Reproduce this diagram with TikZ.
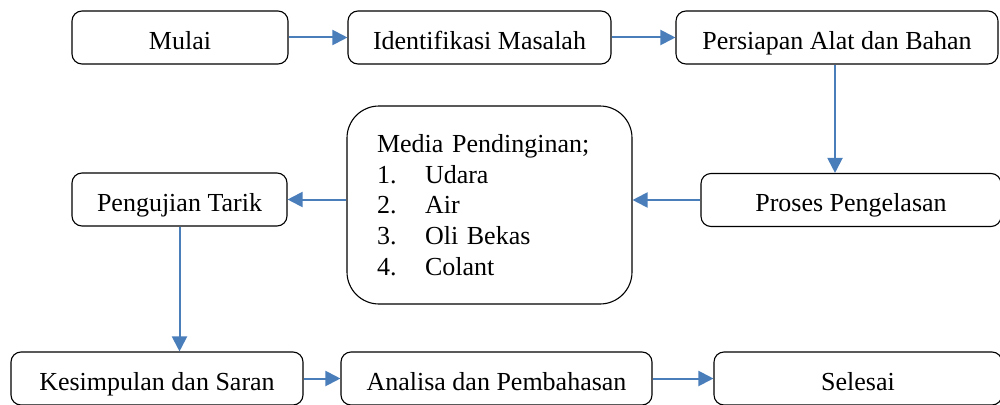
\documentclass[tikz,border=0pt]{standalone}
\usepackage{fontspec}
\setmainfont{Liberation Serif}
\usetikzlibrary{arrows.meta}
\definecolor{arrowblue}{HTML}{4A7EBB}
\begin{document}
\begin{tikzpicture}[x=1pt,y=-1pt,
  box/.style={draw=black, line width=1.1pt, rounded corners=10pt, inner sep=0pt,
    minimum height=53pt, font=\fontsize{26}{30.7}\selectfont,
    text height=23pt, text depth=0pt},
  bigbox/.style={draw=black, line width=1.1pt, rounded corners=32pt, inner sep=0pt,
    minimum width=285pt, minimum height=198pt, text width=225pt, align=left,
    font=\fontsize{26}{30.7}\selectfont},
  flow/.style={draw=arrowblue, line width=2pt, -{Triangle[length=15pt,width=15pt]}}
]
\useasboundingbox (0,0) rectangle (1000,404);
\clip (0,0) rectangle (1000,404);

\node[box, minimum width=216pt] (mulai) at (180,37.5) {Mulai};
\node[box, minimum width=263pt] (ident) at (479.5,37.5) {Identifikasi Masalah};
\node[box, minimum width=322pt] (persiapan) at (837,37.5) {Persiapan Alat dan Bahan};
\node[bigbox] (media) at (489.5,205) {Media Pendinginan;\\
\makebox[48pt][l]{1.}Udara\\
\makebox[48pt][l]{2.}Air\\
\makebox[48pt][l]{3.}Oli Bekas\\
\makebox[48pt][l]{4.}Colant};
\node[box, minimum width=215pt] (pengujian) at (179.5,199.5) {Pengujian Tarik};
\node[box, minimum width=300pt] (proses) at (851,200) {Proses Pengelasan};
\node[box, minimum width=292pt] (kesimpulan) at (157,378.5) {Kesimpulan dan Saran};
\node[box, minimum width=311pt] (analisa) at (496.5,378.5) {Analisa dan Pembahasan};
\node[box, minimum width=288pt] (selesai) at (858,378.5) {Selesai};

\draw[flow] (mulai.east) -- (ident.west);
\draw[flow] (ident.east) -- (persiapan.west);
\draw[flow] ([xshift=-2pt]persiapan.south) -- ([xshift=-2pt]persiapan.south |- proses.north);
\draw[flow] (proses.west) -- (proses.west -| media.east);
\draw[flow] (media.west |- pengujian.east) -- (pengujian.east);
\draw[flow] (pengujian.south) -- (pengujian.south |- kesimpulan.north);
\draw[flow] (kesimpulan.east) -- (analisa.west);
\draw[flow] (analisa.east) -- (selesai.west);
\end{tikzpicture}
\end{document}
